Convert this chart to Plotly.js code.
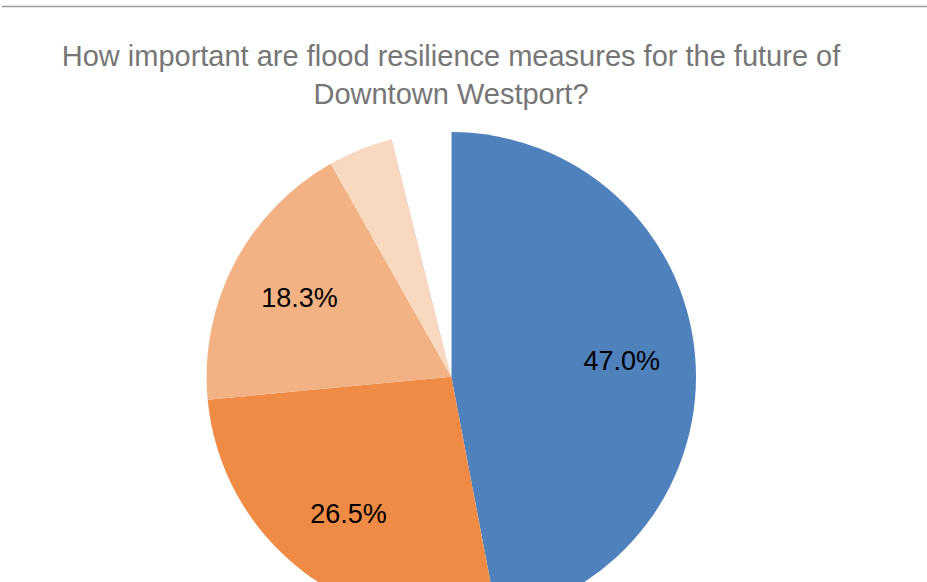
<!DOCTYPE html>
<html>
<head>
<meta charset="utf-8">
<script src="https://cdn.plot.ly/plotly-3.0.1.min.js"></script>
<style>
html, body { margin: 0; padding: 0; overflow: hidden; background: #fff; width: 927px; height: 582px; }
#chart { width: 927px; height: 700px; }
</style>
</head>
<body>
<div id="chart"></div>
<script>
const categories = ["Very important", "Important", "Somewhat important", "Not very important", "Not important"];
const values = [47.0, 26.5, 18.3, 4.3, 3.9];
const labelTexts = ["47.0%", "26.5%", "18.3%", "", ""];
const colors = ["#4F81BD", "#EF8B44", "#F3B283", "#F8D8BF", "#FFFFFF"];

const H = 700;
const pieDomain = { x: [206.6 / 927, 696 / 927], y: [(H - 621.4) / H, (H - 132) / H] };

// Filled slices
const slices = {
  type: "pie",
  labels: categories,
  values: values,
  textinfo: "none",
  sort: false,
  direction: "clockwise",
  rotation: 0,
  marker: { colors: colors, line: { width: 0 } },
  hoverinfo: "label+percent",
  domain: pieDomain,
  showlegend: false
};

// Transparent ring carrying the percentage labels (places them at ~70% of the radius)
const labelRing = {
  type: "pie",
  labels: categories,
  values: values,
  text: labelTexts,
  textinfo: "text",
  textposition: "inside",
  insidetextorientation: "horizontal",
  hole: 0.4,
  sort: false,
  direction: "clockwise",
  rotation: 0,
  marker: { colors: colors.map(() => "rgba(0,0,0,0)"), line: { width: 0 } },
  textfont: { family: "Liberation Sans, Arial, sans-serif", size: 27, color: "#000000" },
  hoverinfo: "skip",
  domain: pieDomain,
  showlegend: false
};

const layout = {
  width: 927,
  height: H,
  margin: { l: 0, r: 0, t: 0, b: 0 },
  paper_bgcolor: "#ffffff",
  showlegend: false,
  title: {
    text: "How important are flood resilience measures for the future of<br>Downtown Westport?",
    font: { family: "Liberation Sans, Arial, sans-serif", size: 29, color: "#767676" },
    x: 451 / 927,
    xanchor: "center",
    xref: "paper",
    yref: "container",
    y: 1 - 66 / H,
    yanchor: "top"
  },
  shapes: [{
    type: "line", xref: "paper", yref: "paper",
    x0: 2 / 927, x1: 1, y0: 1 - 6.5 / H, y1: 1 - 6.5 / H,
    line: { color: "#999999", width: 1.5 }
  }]
};

Plotly.newPlot("chart", [slices, labelRing], layout, { displayModeBar: false, staticPlot: true });
</script>
</body>
</html>
